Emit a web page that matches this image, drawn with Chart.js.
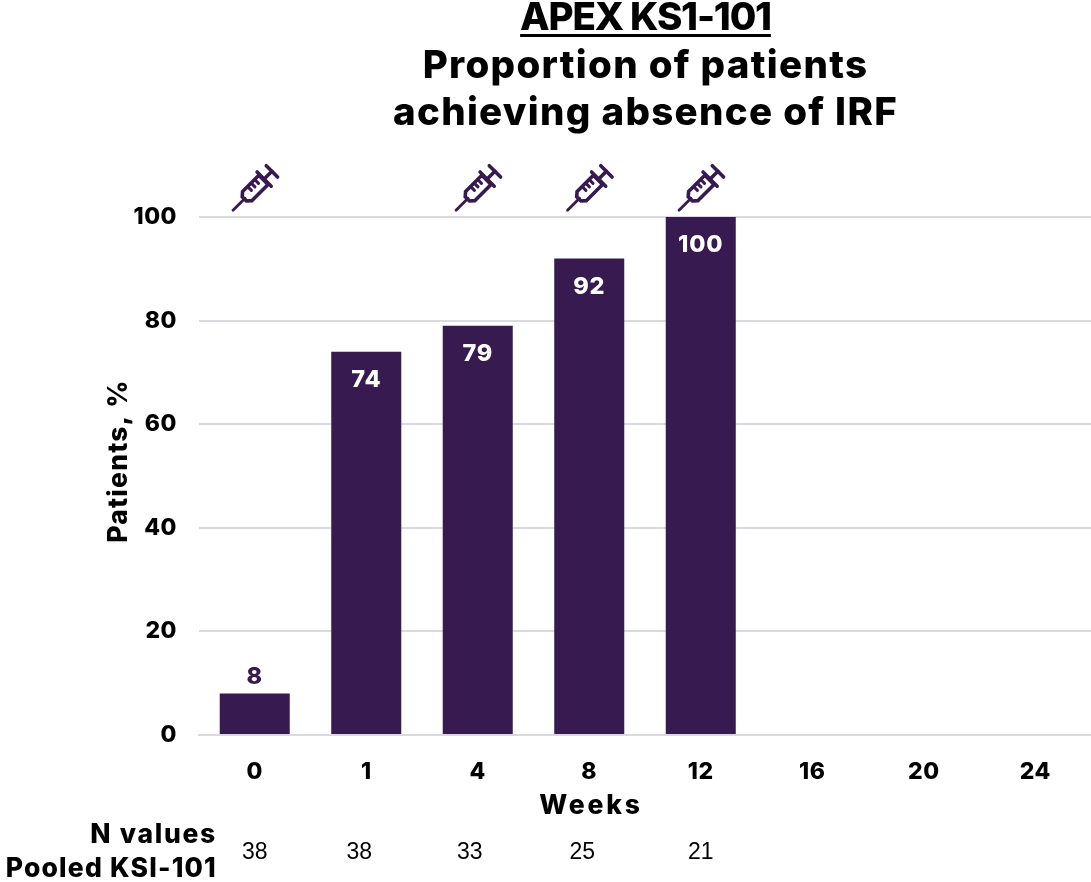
<!DOCTYPE html>
<html>
<head>
<meta charset="utf-8">
<title>APEX KS1-101</title>
<script src="https://cdn.jsdelivr.net/npm/chart.js@4"></script>
<style>
  html, body { margin: 0; padding: 0; background: #fff; }
  #wrap { position: relative; width: 1091px; height: 882px; overflow: hidden; }
  #title { position: absolute; left: 0; width: 1291px; top: -7px; text-align: center; font: 800 38.5px/47.5px Inter, sans-serif; color: #000; letter-spacing: 1.3px; }
  #title u { text-decoration-thickness: 3px; text-underline-offset: 4px; letter-spacing: -1.2px; }
</style>
</head>
<body>
<div id="wrap">
  <div id="title"><u>APEX KS1-101</u><br>Proportion of patients<br>achieving absence of IRF</div>
  <canvas id="chart" width="1091" height="882"></canvas>
</div>
<script>
const weeks = ["0", "1", "4", "8", "12", "16", "20", "24"];
const patients = [8, 74, 79, 92, 100, null, null, null];
const nValues = [38, 38, 33, 25, 21, null, null, null];
const doseWeeks = ["0", "4", "8", "12"];
const yTicks = [0, 20, 40, 60, 80, 100];

const PURPLE = "#371a4f";
const LABEL_FONT = "800 23.5px Inter, sans-serif";

// same glyph at every dosing visit, long axis runs tip to plunger
function drawSyringe(ctx, x, y) {
  ctx.save();
  ctx.translate(x, y);
  ctx.rotate(-Math.PI / 4);
  ctx.strokeStyle = PURPLE;
  ctx.lineWidth = 2.8;
  ctx.lineCap = "round";
  const line = (a, b, c, d) => { ctx.beginPath(); ctx.moveTo(a, b); ctx.lineTo(c, d); ctx.stroke(); };
  line(-30, 0, -13, 0);        // needle
  ctx.lineWidth = 3.6;
  ctx.beginPath();
  ctx.moveTo(-14, -3); ctx.lineTo(-10, -6.5); ctx.lineTo(13, -6.5); ctx.lineTo(13, 6.5); ctx.lineTo(-10, 6.5); ctx.lineTo(-14, 3);
  ctx.closePath();
  ctx.stroke();
  ctx.lineWidth = 3;
  [-3, 2, 7].forEach((t) => line(t, -6, t, -1));
  ctx.lineWidth = 3.6;
  line(14, -10, 14, 10);       // flange
  line(14, 0, 25, 0);          // rod
  line(25, -8, 25, 8);         // handle
  ctx.restore();
}

function spaced(ctx, px) { ctx.letterSpacing = px + "px"; }

const extras = {
  id: "extras",
  beforeDraw(chart) { spaced(chart.ctx, 0.5); },  // stretches the tick labels too
  afterDatasetsDraw(chart) {
    const { ctx, scales: { x, y } } = chart;
    ctx.save();
    ctx.textBaseline = "middle";
    ctx.textAlign = "center";
    ctx.font = LABEL_FONT;
    spaced(ctx, 0.8);
    patients.forEach((v, i) => {
      if (v == null) return;
      const cx = x.getPixelForValue(i);
      const inside = v > 20;
      ctx.fillStyle = inside ? "#fff" : PURPLE;
      ctx.fillText(String(v), cx, y.getPixelForValue(v) + (inside ? 28 : -17));
    });
    spaced(ctx, 0);
    doseWeeks.forEach((w) => {
      drawSyringe(ctx, x.getPixelForValue(weeks.indexOf(w)) - 0.5, y.getPixelForValue(100) - 28);
    });
    // axis captions
    ctx.fillStyle = "#000";
    ctx.font = "800 26.5px Inter, sans-serif";
    spaced(ctx, 2.8);
    ctx.fillText("Weeks", 591, 806);
    ctx.save();
    ctx.translate(119, 461);
    ctx.rotate(-Math.PI / 2);
    spaced(ctx, 1.2);
    ctx.fillText("Patients, %", 0, 0);
    ctx.restore();
    // N row
    ctx.textAlign = "right";
    spaced(ctx, 1.7);
    ctx.fillText("N values", 217, 835);
    spaced(ctx, 1.2);
    ctx.fillText("Pooled KSI-101", 217, 869);
    spaced(ctx, 0);
    ctx.textAlign = "center";
    ctx.font = "23px 'Liberation Sans', Arial, sans-serif";
    const nudge = [0, -7, -8, -7, 0];
    nValues.forEach((n, i) => {
      if (n == null) return;
      ctx.fillText(String(n), x.getPixelForValue(i) + (nudge[i] || 0), 853);
    });
    ctx.restore();
  }
};

new Chart(document.getElementById("chart"), {
  type: "bar",
  data: {
    labels: weeks,
    datasets: [{ data: patients, backgroundColor: PURPLE, categoryPercentage: 1, barPercentage: 0.628 }]
  },
  plugins: [extras],
  options: {
    responsive: false,
    animation: false,
    layout: { padding: { top: 217, right: 0, left: 0, bottom: 0 } },
    plugins: { legend: { display: false }, tooltip: { enabled: false } },
    scales: {
      x: {
        afterFit: (s) => { s.height = 147; },
        grid: { display: false },
        border: { color: "#d9d9df", width: 2 },
        ticks: { color: "#000", font: { family: "Inter", size: 23, weight: "800" }, padding: 15, maxRotation: 0 }
      },
      y: {
        min: 0, max: 100,
        afterFit: (s) => { s.width = 199; },
        afterBuildTicks: (s) => { s.ticks = yTicks.map((value) => ({ value })); },
        grid: { color: "#d9d9df", lineWidth: 2, drawTicks: false },
        border: { display: false },
        ticks: { color: "#000", font: { family: "Inter", size: 23, weight: "800" }, padding: 22 }
      }
    }
  }
});
</script>
</body>
</html>
